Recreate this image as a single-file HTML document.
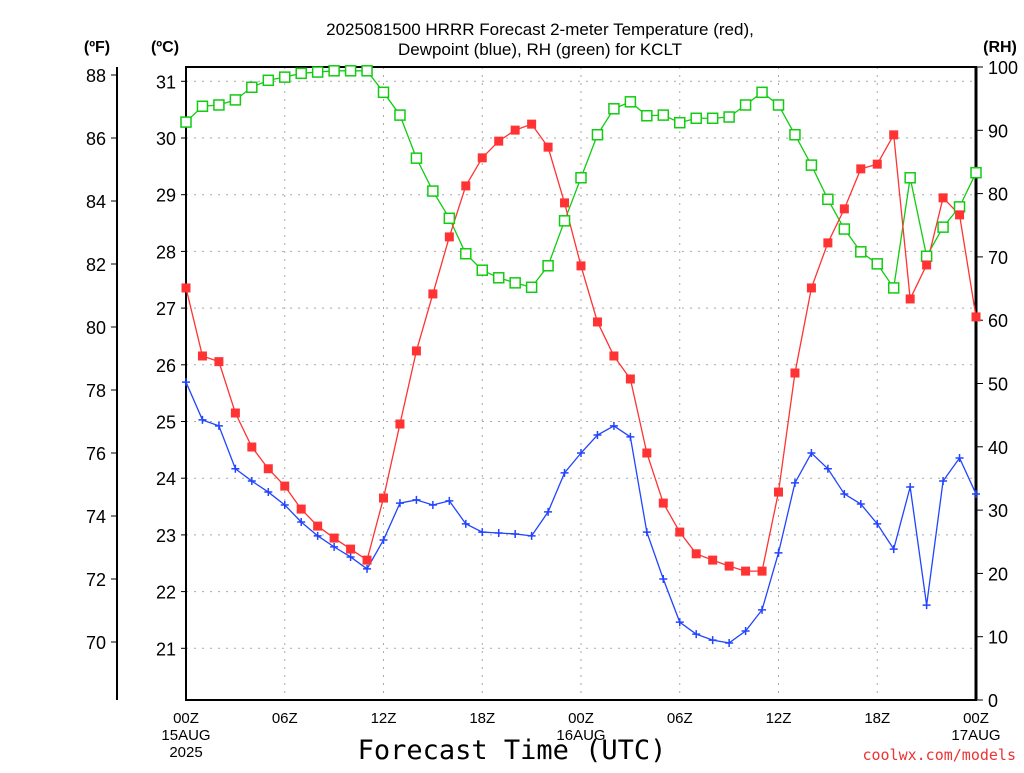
<!DOCTYPE html>
<html><head><meta charset="utf-8"><style>
body{margin:0;background:#fff}
svg text{font-family:"Liberation Sans",sans-serif}
</style></head><body>
<svg id="chart" width="1024" height="768" xmlns="http://www.w3.org/2000/svg">
<text x="540" y="35" text-anchor="middle" font-size="17">2025081500 HRRR Forecast 2-meter Temperature (red),</text>
<text x="540" y="55" text-anchor="middle" font-size="17">Dewpoint (blue), RH (green) for KCLT</text>
<text x="97" y="52" text-anchor="middle" font-size="16" font-weight="bold">(ºF)</text>
<text x="165" y="52" text-anchor="middle" font-size="16" font-weight="bold">(ºC)</text>
<text x="1000" y="52" text-anchor="middle" font-size="16" font-weight="bold">(RH)</text>
<text x="512" y="759" text-anchor="middle" font-size="27" font-family="DejaVu Sans Mono, Liberation Mono, monospace" style="font-family:'DejaVu Sans Mono','Liberation Mono',monospace">Forecast Time (UTC)</text>
<text x="1016" y="760" text-anchor="end" font-size="15" fill="#e33" style="font-family:'DejaVu Sans Mono','Liberation Mono',monospace">coolwx.com/models</text>
<g id="grid"></g><g id="axes"></g><g id="series"></g>
</svg>
<script>
const hours=[...Array(49).keys()];
const tempF=[81.24,79.08,78.9,77.27,76.19,75.5,74.95,74.22,73.68,73.3,72.95,72.6,74.57,76.92,79.24,81.05,82.86,84.48,85.37,85.9,86.25,86.44,85.71,83.94,81.94,80.16,79.08,78.35,76.0,74.41,73.49,72.8,72.6,72.41,72.25,72.25,74.76,78.54,81.24,82.67,83.75,85.02,85.17,86.1,80.89,81.97,84.1,83.56,80.32];
const dewF=[78.25,77.05,76.86,75.5,75.11,74.76,74.35,73.81,73.37,73.02,72.7,72.32,73.24,74.41,74.51,74.35,74.48,73.75,73.49,73.46,73.43,73.37,74.13,75.37,76.0,76.57,76.86,76.51,73.49,72.0,70.63,70.25,70.06,69.97,70.35,71.02,72.83,75.05,76.0,75.5,74.7,74.38,73.75,72.95,74.92,71.17,75.11,75.84,74.7];
const rh=[91.3,93.8,94,94.8,96.8,97.9,98.4,99,99.2,99.4,99.4,99.4,96,92.4,85.6,80.4,76.1,70.5,67.9,66.7,65.9,65.2,68.6,75.7,82.5,89.3,93.4,94.5,92.3,92.4,91.2,91.9,91.9,92.1,94,96,94,89.3,84.5,79.1,74.4,70.8,68.9,65.1,82.5,70.1,74.7,77.9,83.3];
const fTicks=[70,72,74,76,78,80,82,84,86,88];
const cTicks=[21,22,23,24,25,26,27,28,29,30,31];
const rhTicks=[0,10,20,30,40,50,60,70,80,90,100];
const xTickLabels=["00Z","06Z","12Z","18Z","00Z","06Z","12Z","18Z","00Z"];
const x0=186,x1=976,yT=67,yB=700;
const X=h=>x0+h*(x1-x0)/48;
const YF=f=>75+(88-f)*31.5;
const YC=c=>YF(c*1.8+32);
const YR=r=>yB-r*(yB-yT)/100;
const NS="http://www.w3.org/2000/svg";
function mk(parent,tag,attrs,text){const e=document.createElementNS(NS,tag);for(const k in attrs)e.setAttribute(k,attrs[k]);if(text!==undefined)e.textContent=text;parent.appendChild(e);return e;}
const grid=document.getElementById('grid'),axes=document.getElementById('axes'),ser=document.getElementById('series');
cTicks.forEach(c=>{const y=YC(c);
 const l=mk(grid,'line',{x1:x0,x2:x1,y1:y,y2:y,stroke:'#aaa','stroke-dasharray':'2,6'});
 
 
 mk(axes,'line',{x1:181,x2:186,y1:y,y2:y,stroke:'#000'});
 const t=mk(axes,'text',{x:176,y:y+7,'text-anchor':'end','font-size':'18'},String(c));
 
 
});
xTickLabels.forEach((lab,i)=>{const x=X(i*6);
 if(i>0&&i<8){const l=mk(grid,'line',{x1:x,x2:x,y1:yT,y2:yB,stroke:'#aaa','stroke-dasharray':'2,6'});
 
 }
 const t=mk(axes,'text',{x:x,y:723,'text-anchor':'middle','font-size':'15'},lab);
 
 
});
[[0,"15AUG","2025"],[24,"16AUG",""],[48,"17AUG",""]].forEach(d=>{
 const t=mk(axes,'text',{x:X(d[0]),y:740,'text-anchor':'middle','font-size':'15'},d[1]);
 
 
 if(d[2]){const t2=mk(axes,'text',{x:X(d[0]),y:757,'text-anchor':'middle','font-size':'15'},d[2]);
 
 }
});
mk(axes,'line',{x1:117,x2:117,y1:yT,y2:yB,stroke:'#000','stroke-width':2});
fTicks.forEach(f=>{const y=YF(f);
 mk(axes,'line',{x1:111,x2:117,y1:y,y2:y,stroke:'#000'});
 const t=mk(axes,'text',{x:106,y:y+7,'text-anchor':'end','font-size':'18'},String(f));
 
 
});
rhTicks.forEach(r=>{const y=YR(r);
 mk(axes,'line',{x1:976,x2:983,y1:y,y2:y,stroke:'#000'});
 const t=mk(axes,'text',{x:988,y:y+7,'font-size':'18'},String(r));
 
 
});
const frame=mk(axes,'rect',{x:x0,y:yT,width:x1-x0,height:yB-yT,fill:'none',stroke:'#000','stroke-width':2});


mk(axes,'line',{x1:x1,x2:x1,y1:yT,y2:yB,stroke:'#000','stroke-width':3});
function line(vals,Y,color,name){
 const p=mk(ser,'polyline',{points:vals.map((v,i)=>X(hours[i])+','+Y(v)).join(' '),fill:'none',stroke:color,'stroke-width':1.3});
 
 
}
line(rh,YR,'#1c1','rh-line');
line(dewF,YF,'#2244ff','dewpoint-line');
line(tempF,YF,'#f33','temperature-line');
rh.forEach((v,i)=>{const m=mk(ser,'rect',{x:X(i)-5,y:YR(v)-5,width:10,height:10,fill:'#fff',stroke:'#1c1','stroke-width':1.5});
 
 });
dewF.forEach((v,i)=>{const x=X(i),y=YF(v);const m=mk(ser,'path',{d:`M${x-4},${y}h8M${x},${y-4}v8`,stroke:'#2244ff','stroke-width':1.5});
 
 });
tempF.forEach((v,i)=>{const m=mk(ser,'rect',{x:X(i)-4.5,y:YF(v)-4.5,width:9,height:9,fill:'#f33'});
 
 });
</script>
</body></html>
